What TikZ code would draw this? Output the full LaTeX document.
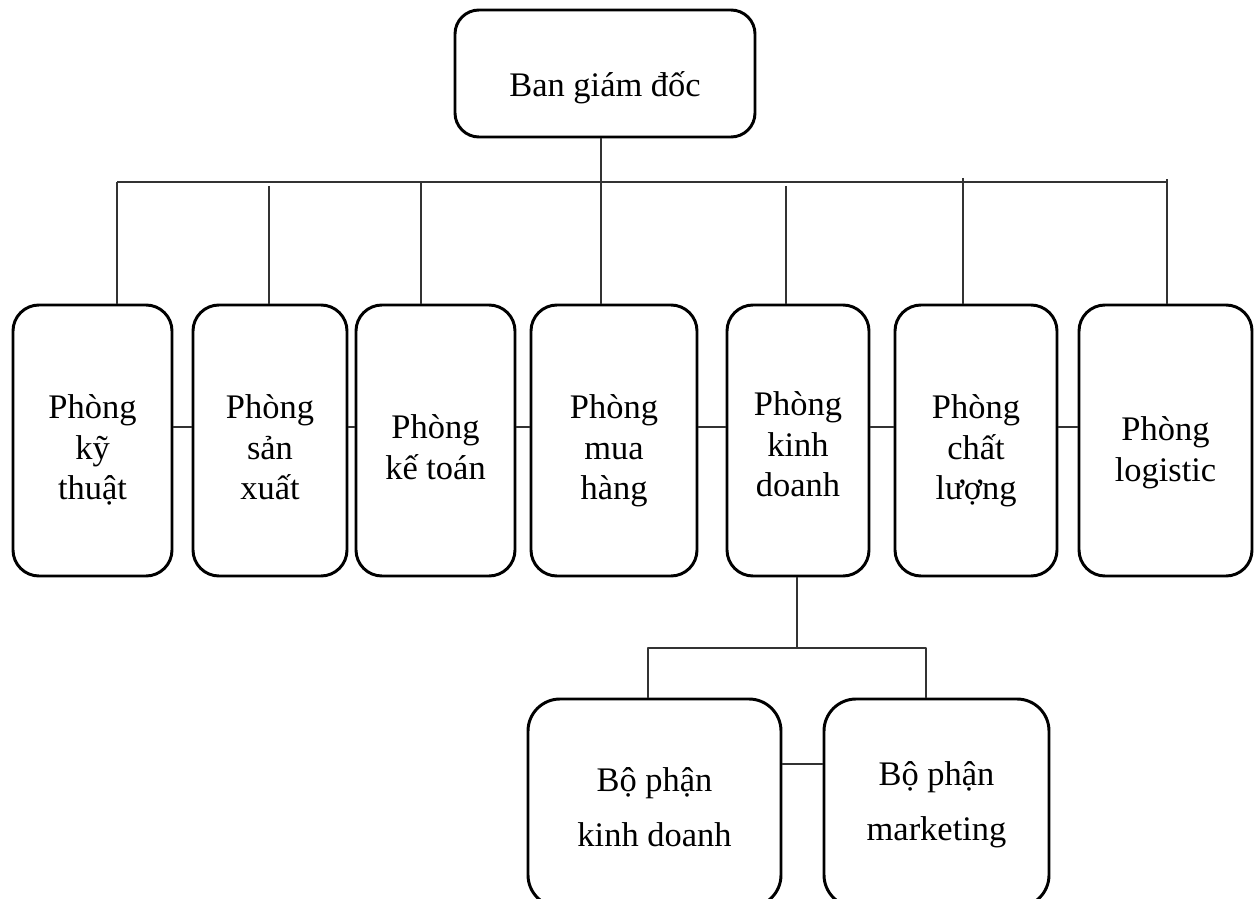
\documentclass[tikz,border=0pt]{standalone}
\usepackage{fontspec}
\setmainfont{Liberation Serif}
\newcommand{\chu}[2][-13.7pt]{\raisebox{#1}[0pt][0pt]{\begin{tabular}{@{}c@{}}#2\end{tabular}}}
\begin{document}
\begin{tikzpicture}[x=0.025cm,y=-0.025cm,line join=round,
	hop/.style={draw,line width=2.1pt,rounded corners=0.65cm,inner sep=0pt,minimum height=271*0.025cm,font=\fontsize{24.5}{29}\selectfont},
	bophan/.style={hop,rounded corners=0.8cm,minimum height=208*0.025cm,font=\fontsize{24.5}{39}\selectfont},
	noi/.style={line width=1pt,black!80}]
			\useasboundingbox (0,0) rectangle (1254,899);
			\clip (0,0) rectangle (1254,899);
			\node[hop,minimum width=300*0.025cm,minimum height=127*0.025cm,rounded corners=0.6cm] (bgd) at (605,73.5) {\chu[-16.9pt]{Ban giám đốc}};
			% cac phong
			\node[hop,minimum width=159*0.025cm] (p1) at (92.5,440.5) {\chu{Phòng\\kỹ\\thuật}};
			\node[hop,minimum width=154*0.025cm] (p2) at (270,440.5) {\chu{Phòng\\sản\\xuất}};
			\node[hop,minimum width=159*0.025cm] (p3) at (435.5,440.5) {\chu{Phòng\\kế toán}};
			\node[hop,minimum width=166*0.025cm] (p4) at (614,440.5) {\chu{Phòng\\mua\\hàng}};
			\node[hop,minimum width=142*0.025cm] (p5) at (798,440.5) {\chu[-11.5pt]{Phòng\\kinh\\doanh}};
			\node[hop,minimum width=162*0.025cm] (p6) at (976,440.5) {\chu{Phòng\\chất\\lượng}};
			\node[hop,minimum width=173*0.025cm] (p7) at (1165.5,440.5) {\chu[-15pt]{Phòng\\logistic}};
			% bo phan
			\node[bophan,minimum width=253*0.025cm] (kd) at (654.5,803) {\chu[-9.9pt]{Bộ phận\\kinh doanh}};
			\node[bophan,minimum width=225*0.025cm] (mk) at (936.5,803) {\chu[-5.3pt]{Bộ phận\\marketing}};
			% duong noi
			\coordinate (tr) at (601,182);
			\coordinate (ng) at (0,427);
			\draw[noi] (bgd.south -| tr) -- (tr);
			\draw[noi] (117,182) -- (1167,182) -- (1167,179);
			\foreach \i/\x/\y in {1/117/182,2/269/186,3/421/182,4/601/182,5/786/186,6/963/178,7/1167/182}{\draw[noi] (\x,\y) -- (\x,\y |- p\i.north);}
			\foreach \a/\b in {p1/p2,p2/p3,p3/p4,p4/p5,p5/p6,p6/p7}{\draw[noi] (\a.east |- ng) -- (\b.west |- ng);}
			\coordinate (kA) at (648,648);
			\coordinate (kB) at (926,648);
			\draw[noi] (p5.south -| 797,0) -- (797,648);
			\draw[noi] (kA |- kd.north) -- (kA) -- (kB) -- (kB |- mk.north);
			\draw[noi] (kd.east |- 0,764) -- (mk.west |- 0,764);
	\end{tikzpicture}
\end{document}
